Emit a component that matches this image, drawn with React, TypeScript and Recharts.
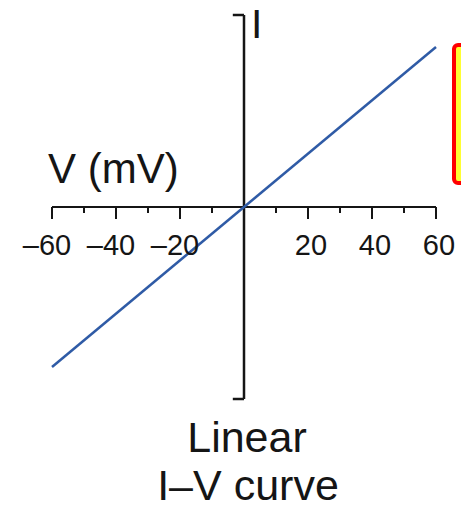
import React from 'react';
import { LineChart, Line, XAxis, YAxis, ReferenceLine } from 'recharts';

const VOLTAGE = [-60, 60];
const CURRENT = [-60, 60];
const V_TICKS = [-60, -50, -40, -30, -20, -10, 0, 10, 20, 30, 40, 50, 60];
const V_LABELED = [-60, -40, -20, 20, 40, 60];
const I_DOMAIN = [-72, 72];

const data = VOLTAGE.map((v, i) => ({ v, i: CURRENT[i] }));

const W = 461;
const H = 508;
const MARGIN = { top: 15, right: 25, left: 52, bottom: 79 };
const PLOT_H = H - MARGIN.top - MARGIN.bottom - 30;
const AXIS_Y = MARGIN.top + PLOT_H / 2;
const FONT = '"Liberation Sans", Arial, Helvetica, sans-serif';
const INK = '#151515';

// x axis is drawn through the origin, so ticks are placed at the zero line
const AxisTick = ({ x, payload }: any) => {
  const v = payload.value;
  const major = v % 20 === 0;
  return (
    <g>
      {v !== 0 && (
        <line x1={x} x2={x} y1={AXIS_Y} y2={AXIS_Y + (major ? 12 : 6)} stroke={INK} strokeWidth={2} />
      )}
      {V_LABELED.includes(v) && (
        <text
          x={x + (v < 0 ? -5 : 3)}
          y={AXIS_Y + 48}
          textAnchor="middle"
          fontSize={29}
          fontFamily={FONT}
          fill={INK}
        >
          {String(v).replace('-', '–')}
        </text>
      )}
    </g>
  );
};

const App: React.FC = () => {
  return (
    <div style={{ position: 'absolute', left: 0, top: 0, width: W, height: H, background: '#fff', overflow: 'hidden' }}>
      <LineChart width={W} height={H} data={data} margin={MARGIN}>
        <XAxis
          dataKey="v"
          type="number"
          domain={[-60, 60]}
          ticks={V_TICKS}
          interval={0}
          axisLine={false}
          tickLine={false}
          tick={<AxisTick />}
        />
        <YAxis hide type="number" domain={I_DOMAIN} />
        <ReferenceLine y={0} stroke={INK} strokeWidth={2} />
        <ReferenceLine x={0} stroke={INK} strokeWidth={2.5} />
        <ReferenceLine segment={[{ x: -3.5, y: I_DOMAIN[1] }, { x: 0, y: I_DOMAIN[1] }]} stroke={INK} strokeWidth={2.5} />
        <ReferenceLine segment={[{ x: -3.5, y: I_DOMAIN[0] }, { x: 0, y: I_DOMAIN[0] }]} stroke={INK} strokeWidth={2.5} />
        <Line
          dataKey="i"
          stroke="#2f5ba6"
          strokeWidth={2.5}
          dot={false}
          isAnimationActive={false}
        />
      </LineChart>
      <svg width={W} height={H} style={{ position: 'absolute', left: 0, top: 0, pointerEvents: 'none' }}>
        <text x={48} y={183} fontSize={42} fontFamily={FONT} fill={INK}>V (mV)</text>
        <text x={251} y={38} fontSize={41} fontFamily={FONT} fill={INK}>I</text>
        <text x={247} y={452} fontSize={43} textAnchor="middle" fontFamily={FONT} fill={INK}>Linear</text>
        <text x={248} y={500} fontSize={43} textAnchor="middle" fontFamily={FONT} fill={INK}>I–V curve</text>
        <rect x={454} y={45} width={24} height={138} rx={4} fill="#ffff33" stroke="#ff0000" strokeWidth={4} />
      </svg>
    </div>
  );
};

export default App;
